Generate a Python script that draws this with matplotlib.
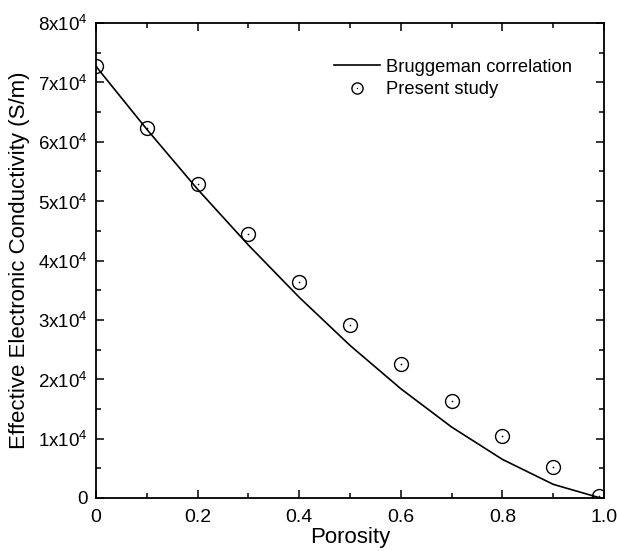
import matplotlib
matplotlib.use("Agg")
import matplotlib.pyplot as plt
from matplotlib.ticker import MultipleLocator, FuncFormatter
from matplotlib.legend_handler import HandlerTuple

plt.rcParams['font.family'] = ['Liberation Sans', 'DejaVu Sans']
plt.rcParams['mathtext.fontset'] = 'custom'
plt.rcParams['mathtext.rm'] = 'Liberation Sans'

# Bruggeman correlation
porosity_line = [0.0, 0.1, 0.2, 0.3, 0.4, 0.5, 0.6, 0.7, 0.8, 0.9, 0.99]
sigma_line = [72700, 62100, 52000, 42600, 33800, 25700, 18400, 11950, 6500, 2300, 70]

# Present study (circles)
porosity_pts = [0.0, 0.1, 0.2, 0.3, 0.4, 0.5, 0.6, 0.7, 0.8, 0.9, 0.99]
sigma_pts = [72700, 62300, 52900, 44400, 36400, 29100, 22500, 16300, 10500, 5200, 400]

fig = plt.figure(figsize=(6.17, 5.51), dpi=100)
ax = fig.add_axes([0.1556, 0.0962, 0.8234, 0.8620])

line, = ax.plot(porosity_line, sigma_line, color='black', lw=1.2)
circ, = ax.plot(porosity_pts, sigma_pts, ls='none', marker='o', ms=10,
                mfc='none', mec='black', mew=1.0)
dot, = ax.plot(porosity_pts, sigma_pts, ls='none', marker='o', ms=1.2,
               mfc='black', mec='black', mew=0)

ax.set_xlim(0, 1.0)
ax.set_ylim(0, 80000)
ax.xaxis.set_major_locator(MultipleLocator(0.2))
ax.xaxis.set_minor_locator(MultipleLocator(0.1))
ax.yaxis.set_major_locator(MultipleLocator(10000))
ax.yaxis.set_minor_locator(MultipleLocator(5000))


def xfmt(v, pos):
    if abs(v) < 1e-9:
        return '0'
    return '%.1f' % v


def yfmt(v, pos):
    n = int(round(v / 10000))
    if n == 0:
        return '0'
    return r'%dx10$^{\mathregular{4}}$' % n


ax.xaxis.set_major_formatter(FuncFormatter(xfmt))
ax.yaxis.set_major_formatter(FuncFormatter(yfmt))
ax.tick_params(which='both', direction='in', top=True, right=True, width=1.1)
ax.tick_params(axis='x', labelsize=14)
ax.tick_params(axis='y', labelsize=13.5)
ax.tick_params(which='major', length=6)
ax.tick_params(axis='x', which='major', pad=8)
ax.tick_params(axis='y', which='major', pad=6)
ax.tick_params(which='minor', length=3.5)
for s in ax.spines.values():
    s.set_linewidth(1.3)

ax.set_xlabel('Porosity', fontsize=16, labelpad=1)
ax.set_ylabel('Effective Electronic Conductivity (S/m)', fontsize=16, labelpad=6)

ax.legend([line, (circ, dot)], ['Bruggeman correlation', 'Present study'],
          handler_map={tuple: HandlerTuple(ndivide=1)},
          loc='upper right', bbox_to_anchor=(0.97, 0.96), frameon=False,
          fontsize=13.2, handlelength=2.5, handletextpad=0.35,
          labelspacing=0.3, markerscale=0.8)

fig.savefig('out.png', dpi=100)
